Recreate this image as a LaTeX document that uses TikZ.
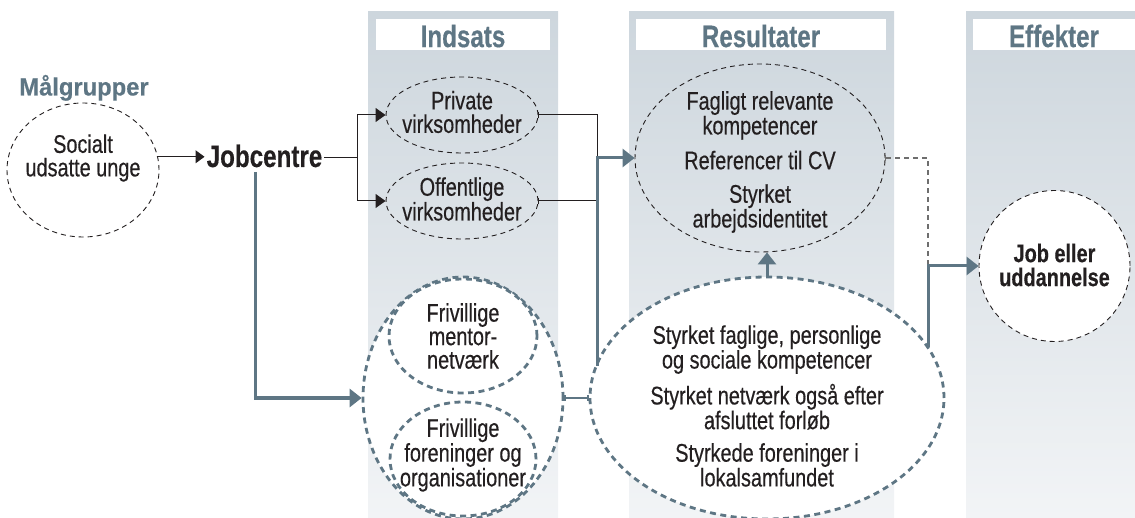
\documentclass[tikz,border=0pt]{standalone}
\usepackage{fontspec}
\setmainfont{Liberation Sans}[FakeStretch=0.78, FakeBold=0.35]
\newfontfamily\mfont{Liberation Sans}[FakeStretch=0.95, FakeBold=0.35]
\usetikzlibrary{shapes.geometric,arrows.meta}
\definecolor{slate}{HTML}{5E7684}
\definecolor{paneltop}{HTML}{CDD6DD}
\definecolor{panelbot}{HTML}{F2F4F6}
\definecolor{ink}{HTML}{231F20}
\definecolor{dgray}{HTML}{6E6E6E}
\begin{document}
\begin{tikzpicture}[x=1pt,y=-1pt,
  txt/.style={font=\fontsize{25.5}{23.5}\selectfont, align=center, text=ink, inner sep=0pt},
  head/.style={font=\bfseries\fontsize{31}{32}\selectfont, text=slate, inner sep=0pt},
  thinell/.style={ellipse, draw=ink, line width=0.9pt, dash pattern=on 5pt off 4pt, inner sep=0pt},
  thickell/.style={ellipse, draw=slate, fill=white, line width=2.8pt, dash pattern=on 6pt off 4.5pt, inner sep=0pt},
  conn/.style={draw=ink, line width=1pt},
  blk/.style={-{Triangle[length=10pt,width=14pt]}},
  sarrow/.style={draw=slate, line width=3pt, -{Triangle[length=12pt,width=18pt]}},
  dashc/.style={draw=dgray, line width=1.2pt, dash pattern=on 5pt off 4pt},
  tick/.style={{Bar[width=6pt,line width=1pt]}-},
  panel/.style={top color=paneltop, bottom color=panelbot, draw=none}
]
\useasboundingbox (0,0) rectangle (1135,518);

% panels
\shade[panel] (368,12) rectangle (558,518);
\shade[panel] (629,12) rectangle (894,518);
\shade[panel] (966,12) rectangle (1135,518);
\fill[white] (376,19) rectangle (550,50);
\fill[white] (636,19) rectangle (886,50);
\fill[white] (973,19) rectangle (1135,50);
\node[head] (hInd) at (463,36) {Indsats};
\node[head] (hRes) at (761,36) {Resultater};
\node[head] (hEff) at (1054,36) {Effekter};

% target group
\node[font=\mfont\bfseries\fontsize{25}{26}\selectfont, text=slate, anchor=base, inner sep=0pt] (mal) at (84,95.5) {Målgrupper};
\node[thinell, fill=white, minimum width=152pt, minimum height=134pt] (soc) at (83,170) {};
\node[txt] (soctxt) at (83,158) {Socialt\\udsatte unge};

\node[font=\bfseries\fontsize{31}{32}\selectfont, text=ink, anchor=base, inner sep=2pt] (job) at (264.5,167) {Jobcentre};

% indsats
\node[thinell, minimum width=152pt, minimum height=76pt] (priv) at (462,115) {};
\node[txt] (privtxt) at (462,112) {Private\\virksomheder};
\node[thinell, minimum width=152pt, minimum height=76pt] (off) at (462,201) {};
\node[txt] (offtxt) at (462,199) {Offentlige\\virksomheder};

\node[thickell, minimum width=200pt, minimum height=242pt] (friv) at (463,398) {};
\node[thickell, minimum width=148pt, minimum height=114pt] (frivA) at (463,336) {};
\node[txt] (frivAtxt) at (463,336) {Frivillige\\mentor-\\netværk};
\node[thickell, minimum width=146pt, minimum height=114pt] (frivB) at (463,459) {};
\node[txt] (frivBtxt) at (463,455) {Frivillige\\foreninger og\\organisationer};

% resultater
\node[thinell, minimum width=250pt, minimum height=188pt] (res) at (760,158) {};
\node[txt] (restxt) at (760,162) {Fagligt relevante\\kompetencer\\[10pt]Referencer til CV\\[10pt]Styrket\\arbejdsidentitet};

\node[thickell, minimum width=354pt, minimum height=242pt] (sty) at (767,398) {};
\node[txt] (stytxt) at (767,406) {Styrket faglige, personlige\\og sociale kompetencer\\[9pt]Styrket netværk også efter\\afsluttet forløb\\[9pt]Styrkede foreninger i\\lokalsamfundet};

% effekter
\node[thinell, fill=white, minimum width=151pt, minimum height=151pt] (jobc) at (1054.5,266) {};
\node[txt, font=\bfseries\fontsize{25.5}{24}\selectfont] (jobctxt) at (1054.5,265) {Job eller\\uddannelse};

% coordinates
\coordinate (sp) at (357,158);
\coordinate (mg) at (597,157);
\coordinate (sl) at (597,366);
\coordinate (jd) at (255,172);
\coordinate (tb) at (928,347);

% connectors
\draw[conn, -{Triangle[length=9pt,width=13pt]}] (soc.10) -- (soc.10 -| job.west);
\draw[conn] (job.east |- sp) -- (sp);
\draw[conn, blk] (sp) |- (priv.west);
\draw[conn, blk] (sp) |- (off.west);
\draw[conn, tick] (priv.east) -| (mg);
\draw[conn, tick] (off.east) -| (mg);
\draw[sarrow] (sl) |- (res.west);
\draw[sarrow] (jd) |- (friv.west);
\draw[draw=slate, line width=1.5pt, {Bar[width=6pt,line width=1.2pt]}-{Bar[width=6pt,line width=1.2pt]}] (friv.east) -- (sty.west);
\draw[sarrow] (sty.north) -- (sty.north |- res.south);
\draw[dashc, tick] (res.east) -| (tb |- jobc.west);
\draw[sarrow] (tb) |- (jobc.west);
\end{tikzpicture}
\end{document}
